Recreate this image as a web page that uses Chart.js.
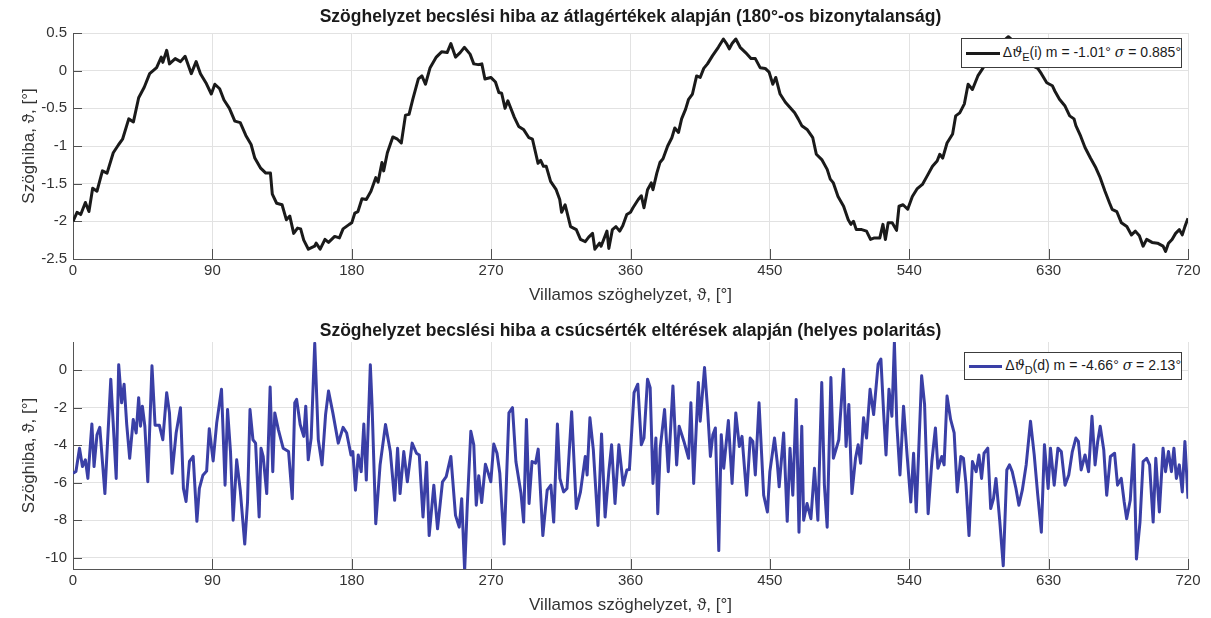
<!DOCTYPE html>
<html>
<head>
<meta charset="utf-8">
<script src="https://cdn.jsdelivr.net/npm/chart.js@4.4.1/dist/chart.umd.min.js"></script>
<style>
  body { margin: 0; background: #fff; font-family: "Liberation Sans", Arial, sans-serif; }
  #wrap { position: relative; width: 1211px; height: 618px; }
  canvas { position: absolute; left: 0; }
  .legend { position: absolute; background: #fff; border: 1px solid #3c3c3c; font-size: 14px; color: #1a1a1a;
            display: flex; align-items: center; white-space: nowrap; box-sizing: border-box; }
  .legend .swatch { display: inline-block; width: 36px; height: 3px; margin: 0 3px 0 4px; }
  .legend sub { font-size: 11px; }
  .th { font-family: "DejaVu Serif", serif; font-style: italic; }
</style>
</head>
<body>
<div id="wrap">
  <canvas id="topChart" width="1211" height="309" style="top:0"></canvas>
  <canvas id="botChart" width="1211" height="309" style="top:309px"></canvas>
  <div class="legend" style="left:961px; top:38px; width:221px; height:30px;">
    <span class="swatch" style="background:#1a1a1a"></span>
    <span>&Delta;<span class="th">&#977;</span><sub>E</sub>(i) m = -1.01&deg; <span class="th">&sigma;</span> = 0.885&deg;</span>
  </div>
  <div class="legend" style="left:964px; top:352px; width:218px; height:28px;">
    <span class="swatch" style="background:#3a3fa6"></span>
    <span>&Delta;<span class="th">&#977;</span><sub>D</sub>(d) m = -4.66&deg; <span class="th">&sigma;</span> = 2.13&deg;</span>
  </div>
</div>
<script>
// x tick labels shared by both plots
const xTickVals = [0, 90, 180, 270, 360, 450, 540, 630, 720];
const topYTicks = [-2.5, -2, -1.5, -1, -0.5, 0, 0.5];
const botYTicks = [-10, -8, -6, -4, -2, 0];

// top plot: angle error from the averages
const topDeg = [0, 2.6, 5, 8, 10.3, 12.7, 15.5, 19, 22, 26, 29.5, 32, 36, 39, 42.4, 46, 49.5, 54, 57, 58,
  60.5, 62.3, 66, 69.4, 72.4, 76.4, 79.5, 82.3, 85.8, 89.3, 91.6, 94.7, 97.5, 101, 104.5, 108, 111.6, 115, 117.4, 121,
  124.5, 127.5, 128.7, 131.5, 135, 137.8, 140, 142.5, 145, 147, 149, 152, 156, 157, 159.6, 162.7, 165, 169, 172, 174.4,
  178.4, 180, 182, 184, 186.6, 189.4, 192.4, 195.5, 197, 199.5, 200.6, 203, 206.5, 209.5, 212, 214.7, 217, 219.4, 223, 225.3,
  227.6, 230.6, 234.6, 238, 241.6, 244, 247, 250, 252.7, 256.4, 258.8, 261.6, 264, 266, 269.8, 272.8, 275, 276.8, 279, 280.8,
  285, 287.8, 290.9, 294.4, 296.7, 300.3, 302, 303.8, 305.6, 308.4, 312, 314.3, 315.5, 317.8, 321.3, 325, 327.7, 330.8, 333, 335.5,
  337, 340, 341, 344.8, 346, 348.3, 350.6, 353, 355, 357.6, 360, 361.6, 365, 367, 368.7, 371, 373.4, 374.5, 377, 379,
  381, 384, 386.7, 388.6, 391, 393, 395.6, 397.5, 400, 402.7, 405, 407.3, 409.7, 413, 416.7, 420, 422, 423.8, 425.6, 428,
  430.8, 434.3, 437.8, 440.6, 443.7, 447, 449.5, 451.9, 453.8, 456.6, 460, 463, 466, 468.3, 470.6, 474, 477.7, 480, 483.5, 487,
  489, 491, 494, 497.6, 500.6, 502.3, 504, 505.8, 509.3, 512.4, 515, 517.5, 521, 523, 524.6, 526.4, 529, 531.8, 533.4, 536,
  539, 542, 545, 548.5, 551.5, 555, 558, 559.7, 561.6, 564.4, 568, 570, 572.6, 575.6, 578, 580.8, 584.3, 587.8, 591, 595,
  600, 604, 608, 612, 616, 620, 623, 625.3, 628.8, 632.4, 634, 637, 640.6, 643.6, 646.4, 647.6, 650.7, 653.5, 657, 660.5,
  663.3, 666.4, 669.4, 671, 674, 677, 680.5, 683.5, 686, 688.6, 691, 693.3, 696.8, 700.3, 703.9, 705.5, 707.4, 709.7, 712, 714.4,
  716.3, 718, 720];
const topErr = [-2.0, -1.88, -1.91, -1.75, -1.87, -1.56, -1.6, -1.33, -1.36, -1.09, -0.98, -0.91, -0.64, -0.68, -0.36, -0.22, -0.04, 0.04, 0.18, 0.11,
  0.27, 0.09, 0.16, 0.12, 0.19, -0.04, 0.12, -0.04, -0.16, -0.31, -0.18, -0.24, -0.39, -0.5, -0.67, -0.69, -0.86, -0.98, -1.16, -1.29,
  -1.36, -1.36, -1.64, -1.76, -1.78, -1.98, -1.93, -2.16, -2.09, -2.1, -2.25, -2.37, -2.33, -2.29, -2.37, -2.24, -2.28, -2.2, -2.22, -2.1,
  -2.04, -2.02, -1.89, -1.87, -1.7, -1.71, -1.6, -1.42, -1.48, -1.22, -1.33, -1.09, -0.88, -0.91, -0.96, -0.59, -0.58, -0.38, -0.11, -0.07,
  -0.18, 0.04, 0.18, 0.25, 0.24, 0.36, 0.18, 0.24, 0.31, 0.22, 0.09, 0.08, 0.09, -0.11, -0.09, -0.15, -0.29, -0.3, -0.5, -0.4,
  -0.62, -0.74, -0.78, -0.89, -0.91, -1.23, -1.19, -1.27, -1.27, -1.47, -1.58, -1.71, -1.88, -1.78, -2.07, -2.11, -2.24, -2.27, -2.21, -2.16,
  -2.37, -2.29, -2.33, -2.13, -2.36, -2.11, -2.07, -2.13, -2.06, -1.91, -1.88, -1.82, -1.71, -1.66, -1.82, -1.58, -1.49, -1.58, -1.36, -1.22,
  -1.17, -1.0, -0.89, -0.76, -0.82, -0.64, -0.51, -0.38, -0.31, -0.07, -0.09, 0.03, 0.09, 0.2, 0.31, 0.42, 0.36, 0.29, 0.36, 0.42,
  0.31, 0.24, 0.16, 0.16, 0.04, 0.03, -0.02, -0.18, -0.09, -0.31, -0.42, -0.49, -0.56, -0.64, -0.73, -0.78, -0.89, -1.11, -1.18, -1.31,
  -1.44, -1.49, -1.67, -1.8, -1.98, -2.04, -2.0, -2.11, -2.11, -2.13, -2.24, -2.22, -2.22, -2.04, -2.24, -2.02, -2.02, -2.12, -1.8, -1.78,
  -1.84, -1.67, -1.57, -1.51, -1.4, -1.27, -1.2, -1.11, -1.16, -0.96, -0.84, -0.6, -0.56, -0.44, -0.18, -0.25, -0.07, 0.04, 0.12, 0.28,
  0.38, 0.45, 0.38, 0.25, 0.15, 0.06, 0.03, -0.04, -0.16, -0.2, -0.27, -0.38, -0.47, -0.6, -0.64, -0.73, -0.87, -1.02, -1.16, -1.29,
  -1.42, -1.6, -1.76, -1.84, -1.87, -2.02, -2.07, -2.18, -2.13, -2.19, -2.33, -2.24, -2.28, -2.29, -2.33, -2.4, -2.29, -2.24, -2.16, -2.11,
  -2.18, -2.07, -1.96];

// bottom plot: angle error from the peak differences
const botDeg = [0, 1.9, 4.2, 6.1, 8, 9.6, 12.2, 13.6, 15.5, 17.3, 20.6, 24.4, 27.9, 29.5, 31.4, 33, 34.7, 36.6, 38.9, 40.8,
  42.4, 43.6, 44.8, 46.4, 48.3, 51, 53, 55.8, 58, 60.5, 62.3, 64, 66.6, 69.4, 71.3, 73, 75.2, 77.6, 80, 81.6,
  83.9, 86.3, 88, 90.5, 92.8, 95.9, 98.2, 99.8, 101.7, 103.4, 105.7, 108, 110.9, 112.7, 114.3, 116.2, 117.9, 120.2, 121.4, 122.8,
  125.1, 127.3, 129, 130.3, 132.6, 135.7, 139.2, 141.6, 143.2, 144.4, 146.7, 149, 150.3, 151.9, 153.8, 156.1, 158.4, 160.8, 163.1, 165,
  167.8, 171.3, 174.4, 176.7, 179.5, 180.7, 182.4, 184.2, 186.1, 187.8, 189.4, 192, 193.1, 195.5, 198.3, 201.8, 204.9, 207.7, 209.6, 211.2,
  213.6, 215.9, 219, 221.8, 223.6, 226, 228.3, 230, 233, 235.4, 238.6, 241, 244, 247, 249.4, 251, 252.9, 254.6, 256.9, 258.8,
  260.4, 262, 263.9, 266.3, 268, 269.8, 271.7, 273.8, 275.6, 278.4, 281.5, 283.8, 286, 289.3, 291, 292.8, 294.5, 296.4, 298.7, 300.4,
  303.4, 306.2, 308.6, 310.4, 312.8, 314.4, 316.8, 319, 322, 325, 327.7, 330.8, 332, 333.8, 336, 339, 341.3, 343.6, 346, 347.8,
  350, 352.5, 355.3, 357.7, 359.3, 362.3, 364.7, 367, 368.7, 371, 372.7, 374.5, 376.4, 377.6, 379.2, 382, 384.4, 387.4, 389.8, 391.4,
  394.5, 397.5, 399, 400.8, 403.8, 405, 407.8, 409.7, 411.6, 413.2, 414.8, 417, 418.6, 420.2, 423.2, 425.6, 428, 430.3, 432, 435,
  437.3, 439, 440.6, 443, 446, 448.4, 450, 453, 454.7, 456, 458.9, 461.2, 463, 464.8, 467, 468.8, 470.6, 471.8, 474, 476.5,
  478.8, 481, 483.5, 485.2, 487, 489.4, 491, 494.5, 497.6, 499.2, 501, 503, 505.3, 507, 508.6, 510.5, 512.4, 514.7, 517, 519.9,
  521.7, 523.4, 525, 526.9, 528.8, 530.4, 532, 534, 536.3, 538.6, 541, 542.8, 544.5, 546, 548, 549.9, 552.2, 554.6, 556.9, 558.5,
  561, 562.5, 564.4, 566.7, 569, 571, 573.3, 575, 576.6, 578.6, 580.8, 583.2, 585, 586.7, 588.3, 590.7, 592.6, 594.4, 596, 598.4,
  600.7, 603, 604.7, 606.5, 608.9, 610.8, 613, 615.5, 618.3, 620.7, 623, 625.3, 627.3, 629.7, 631.2, 633.6, 636, 638.2, 640.6, 643,
  645.3, 647.6, 649.2, 651, 653.5, 655.8, 658, 660, 661.7, 663.3, 665.6, 667.5, 669.9, 672.6, 674.5, 676.9, 678.8, 680.4, 682.7, 685,
  686.7, 689, 691, 693.3, 695.2, 697.5, 699.2, 701.5, 703.9, 705.5, 707.4, 709.3, 710.9, 712.5, 714.4, 716.3, 718, 720];
const botErr = [-5.5, -5.4, -4.16, -5.14, -4.78, -5.77, -2.87, -5.14, -3.44, -3.05, -6.58, -0.48, -5.77, 0.29, -1.74, -0.75, -2.9, -4.7, -2.63, -3.35,
  -1.47, -2.99, -1.92, -2.99, -5.95, 0.23, -2.94, -2.94, -3.71, -1.2, -2.28, -5.5, -3.35, -2.0, -6.3, -7.0, -4.87, -4.6, -8.06, -6.3,
  -5.6, -5.38, -3.12, -4.84, -2.81, -1.02, -6.13, -2.1, -4.34, -8.0, -4.78, -6.4, -9.27, -7.03, -2.1, -3.71, -3.89, -7.83, -4.16, -4.6,
  -6.58, -0.9, -5.41, -2.28, -3.17, -4.16, -4.34, -6.85, -1.74, -1.56, -2.9, -3.53, -1.92, -4.78, -3.62, 1.43, -3.71, -5.05, -2.37, -1.11,
  -2.28, -3.89, -3.05, -3.35, -4.52, -4.34, -6.4, -4.52, -5.41, -2.87, -5.86, 0.29, -1.83, -8.19, -5.05, -2.9, -4.34, -6.94, -4.16, -6.58,
  -4.34, -5.95, -3.89, -4.43, -4.52, -7.83, -4.91, -8.82, -6.13, -8.46, -5.95, -5.68, -4.6, -7.74, -8.37, -6.85, -10.7, -7.2, -3.26, -3.98,
  -7.2, -5.63, -7.06, -5.02, -5.45, -5.95, -3.94, -4.43, -5.5, -9.27, -2.28, -2.0, -4.87, -6.58, -8.1, -2.63, -7.11, -4.87, -4.96, -4.21,
  -8.82, -6.4, -6.13, -8.1, -2.87, -5.77, -6.49, -6.31, -2.22, -7.38, -6.49, -4.6, -5.59, -2.54, -4.25, -8.28, -3.4, -7.83, -5.41, -3.98,
  -7.11, -3.98, -6.13, -5.32, -5.3, -1.2, -0.75, -3.98, -3.62, -0.48, -0.93, -6.04, -3.62, -7.65, -4.16, -2.1, -5.41, -0.84, -5.05, -2.99,
  -3.8, -4.7, -1.74, -6.04, -0.66, -2.72, 0.14, -2.0, -4.6, -3.44, -3.08, -9.62, -3.44, -5.23, -2.69, -6.04, -2.28, -4.07, -3.53, -6.67,
  -3.62, -3.8, -5.59, -1.74, -6.67, -7.56, -5.41, -3.62, -4.87, -6.22, -3.35, -8.06, -4.16, -6.67, -1.56, -8.64, -2.99, -8.0, -7.11, -7.92,
  -5.23, -8.0, -0.66, -6.13, -8.37, -0.39, -4.7, -3.71, 0.05, -4.07, -1.83, -6.58, -4.7, -3.98, -4.96, -2.54, -3.62, -1.02, -2.37, 0.32,
  0.59, -2.19, -4.52, -1.02, -2.46, 1.49, -2.9, -5.59, -1.92, -4.52, -7.03, -4.43, -7.56, -4.52, -0.3, -1.83, -7.65, -4.87, -3.08, -5.23,
  -4.6, -5.05, -1.38, -2.63, -3.35, -6.49, -4.6, -4.7, -6.04, -8.82, -4.87, -5.41, -4.52, -5.77, -4.43, -4.16, -7.38, -6.85, -5.77, -8.0,
  -10.43, -5.32, -5.05, -5.41, -6.31, -7.2, -6.4, -5.05, -2.72, -4.52, -6.67, -8.64, -3.98, -6.31, -4.16, -6.13, -4.16, -4.34, -6.13, -5.59,
  -4.34, -3.62, -3.8, -5.32, -4.52, -5.41, -2.46, -5.05, -3.8, -2.99, -4.25, -6.67, -4.6, -4.43, -6.13, -5.77, -7.03, -7.92, -6.94, -3.98,
  -10.07, -8.1, -4.87, -4.7, -5.05, -8.1, -4.7, -7.56, -4.16, -5.41, -4.34, -5.41, -4.16, -5.77, -5.05, -6.49, -3.8, -6.85];

const FONT = '"Liberation Sans", Arial, sans-serif';

// MATLAB-style tick marks pointing into the axes
const inwardTicks = {
  id: 'inwardTicks',
  beforeDatasetsDraw(chart) {
    const { ctx, chartArea, scales } = chart;
    ctx.save();
    ctx.strokeStyle = '#505050';
    ctx.lineWidth = 1;
    ctx.beginPath();
    scales.x.ticks.forEach(t => {
      const px = Math.round(scales.x.getPixelForValue(t.value)) + 0.5;
      ctx.moveTo(px, chartArea.bottom);
      ctx.lineTo(px, chartArea.bottom - 10);
    });
    scales.y.ticks.forEach(t => {
      const py = Math.round(scales.y.getPixelForValue(t.value)) + 0.5;
      ctx.moveTo(chartArea.left, py);
      ctx.lineTo(chartArea.left + 9, py);
    });
    ctx.stroke();
    ctx.restore();
  }
};

// title centred over the plot area, like the MATLAB axes title
const axesTitle = {
  id: 'axesTitle',
  afterDraw(chart, args, opts) {
    const { ctx, chartArea } = chart;
    ctx.save();
    ctx.font = 'bold 17.5px ' + FONT;
    ctx.fillStyle = '#1a1a1a';
    ctx.textAlign = 'center';
    ctx.textBaseline = 'middle';
    ctx.fillText(opts.text, (chartArea.left + chartArea.right) / 2, opts.y);
    ctx.restore();
  }
};

function makeChart(id, xs, ys, color, yMin, yMax, yTicks, title, titleY, xAxisH, xTitlePad) {
  return new Chart(document.getElementById(id), {
    type: 'line',
    data: {
      datasets: [{
        data: xs.map((x, i) => ({ x: x, y: ys[i] })),
        borderColor: color,
        borderWidth: 3,
        pointRadius: 0,
        tension: 0,
        borderJoinStyle: 'round',
        fill: false
      }]
    },
    options: {
      responsive: false,
      animation: false,
      layout: { padding: { top: 33, right: 23, left: 0, bottom: 0 } },
      plugins: {
        legend: { display: false },
        tooltip: { enabled: false },
        axesTitle: { text: title, y: titleY }
      },
      scales: {
        x: {
          type: 'linear',
          min: 0,
          max: 720,
          afterBuildTicks: s => { s.ticks = xTickVals.map(v => ({ value: v })); },
          afterFit: s => { s.height = xAxisH; },
          grid: { color: '#e2e2e2', drawTicks: false },
          border: { color: '#555', width: 1 },
          ticks: { padding: 3, color: '#333', font: { family: FONT, size: 15 }, maxRotation: 0,
                   callback: v => String(v) },
          title: { display: true, text: 'Villamos szöghelyzet, ϑ, [°]', color: '#333',
                   font: { family: FONT, size: 17 }, padding: { top: 0, bottom: xTitlePad } }
        },
        y: {
          min: yMin,
          max: yMax,
          afterBuildTicks: s => { s.ticks = yTicks.map(v => ({ value: v })); },
          afterFit: s => { s.width = 73; },
          grid: { color: '#e2e2e2', drawTicks: false },
          border: { color: '#555', width: 1 },
          ticks: { padding: 6, color: '#333', font: { family: FONT, size: 15 },
                   callback: v => String(+v.toFixed(2)) },
          title: { display: true, text: 'Szöghiba, ϑ, [°]', color: '#333',
                   font: { family: FONT, size: 17 }, padding: { top: 19, bottom: 0 } }
        }
      }
    },
    plugins: [inwardTicks, axesTitle]
  });
}

makeChart('topChart', topDeg, topErr, '#1a1a1a', -2.5, 0.5, topYTicks,
  'Szöghelyzet becslési hiba az átlagértékek alapján (180°-os bizonytalanság)', 17, 50, 3);
makeChart('botChart', botDeg, botErr, '#3a3fa6', -10.6, 1.5, botYTicks,
  'Szöghelyzet becslési hiba a csúcsérték eltérések alapján (helyes polaritás)', 22, 49, 2);
</script>
</body>
</html>
